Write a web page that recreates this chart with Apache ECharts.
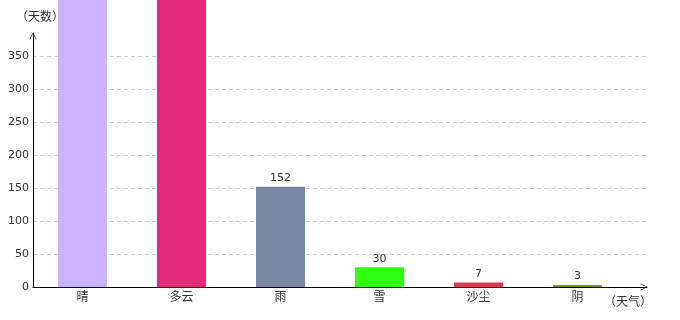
<!DOCTYPE html>
<html><head><meta charset="utf-8">
<script src="https://cdn.jsdelivr.net/npm/echarts@6/dist/echarts.min.js"></script>
<style>html,body{margin:0;padding:0;background:#fff}#c{width:680px;height:320px}</style>
</head><body><div id="c"></div>
<script>
const categories = ['晴', '多云', '雨', '雪', '沙尘', '阴'];
const values = [450, 460, 152, 30, 7, 3];
const colors = ['#c9b4fd', '#e52a7b', '#7686a3', '#2eff0c', '#e8344e', '#6e9a24'];
const yTicks = { min: 0, max: 350, interval: 50 };

const FONT = '"DejaVu Sans", "Noto Sans CJK SC", sans-serif';
const CJK = '"Noto Sans CJK SC", sans-serif';
const chevron = 'path://M0,10 L5,0 L10,10 L9,10 L5,1.6 L1,10 Z';
const chart = echarts.init(document.getElementById('c'));
chart.setOption({
  animation: false,
  grid: [
    { left: 33, right: 33, top: 33, bottom: 33 },
    { left: 33, right: 33, top: 56, bottom: 33 },
    { left: 33, right: 53, top: 56, bottom: 33 }
  ],
  xAxis: [
    { gridIndex: 0, type: 'value', min: 0, max: 1,
      axisLine: { show: true, lineStyle: { color: '#000', width: 1 }, symbol: ['none', chevron], symbolSize: [7, 8], symbolOffset: [0, -3] },
      axisTick: { show: false }, axisLabel: { show: false }, splitLine: { show: false },
      name: '（天气）', nameLocation: 'end', nameGap: 5,
      nameTextStyle: { fontFamily: CJK, fontSize: 12, color: '#333', align: 'right', verticalAlign: 'top', padding: [8, 0, 0, 0] } },
    { gridIndex: 1, type: 'value', min: 0, max: 1, show: false },
    { gridIndex: 2, type: 'category', data: categories,
      axisLine: { show: false }, axisTick: { show: false },
      axisLabel: { fontFamily: CJK, fontSize: 12, color: '#333', margin: 3 } }
  ],
  yAxis: [
    { gridIndex: 0, type: 'value', min: 0, max: 1,
      axisLine: { show: true, lineStyle: { color: '#000', width: 1 }, symbol: ['none', chevron], symbolSize: [7, 8], symbolOffset: [0, -3] },
      axisTick: { show: false }, axisLabel: { show: false }, splitLine: { show: false },
      name: '（天数）', nameLocation: 'end', nameGap: 11,
      nameTextStyle: { fontFamily: CJK, fontSize: 12, color: '#333', padding: [0, 0, 0, 14] } },
    { gridIndex: 1, type: 'value', min: yTicks.min, max: yTicks.max, interval: yTicks.interval,
      axisLine: { show: false }, axisTick: { show: false },
      axisLabel: { fontFamily: FONT, fontSize: 11, color: '#333', margin: 4 },
      splitLine: { show: true, lineStyle: { color: '#ccc', type: [4, 3], width: 1 } } },
    { gridIndex: 2, type: 'value', min: yTicks.min, max: yTicks.max, show: false }
  ],
  series: [{
    type: 'bar', xAxisIndex: 2, yAxisIndex: 2, clip: false, barWidth: 49,
    data: values.map((v, i) => ({ value: v, itemStyle: { color: colors[i] } })),
    label: { show: true, position: 'top', distance: 3, fontFamily: FONT, fontSize: 11, color: '#333' }
  }]
});
</script></body></html>
